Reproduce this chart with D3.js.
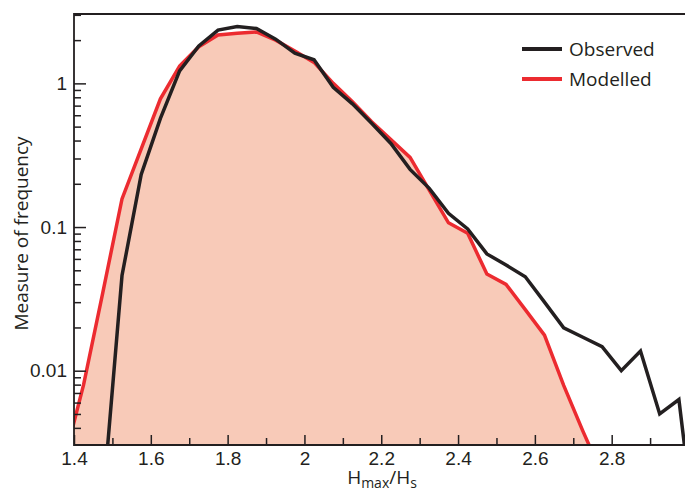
<!DOCTYPE html>
<html>
<head>
<meta charset="utf-8">
<script src="https://cdn.jsdelivr.net/npm/d3@7"></script>
<style>
  html, body { margin: 0; padding: 0; background: #fff; }
  svg { display: block; font-family: "Open Sans", "Noto Sans", sans-serif; }
</style>
</head>
<body>
<svg id="chart" width="685" height="492"></svg>
<script>
// H_max/H_s bin centres (0.05 wide)
const xObserved = [1.475, 1.525, 1.575, 1.625, 1.675, 1.725, 1.775, 1.825, 1.875, 1.925,
  1.975, 2.025, 2.075, 2.125, 2.175, 2.225, 2.275, 2.325, 2.375, 2.425, 2.475, 2.525,
  2.575, 2.625, 2.675, 2.725, 2.775, 2.825, 2.875, 2.925, 2.975, 3.025];
const observed = [0.0012, 0.046, 0.232, 0.571, 1.22, 1.82, 2.35, 2.49, 2.41, 2.03,
  1.62, 1.46, 0.94, 0.72, 0.527, 0.382, 0.252, 0.186, 0.1245, 0.097, 0.065, 0.0544,
  0.0451, 0.030, 0.0199, 0.0171, 0.0147, 0.0100, 0.0137, 0.0050, 0.0063, 0.0005];

const xModelled = [1.375, 1.425, 1.475, 1.525, 1.575, 1.625, 1.675, 1.725, 1.775, 1.825,
  1.875, 1.925, 1.975, 2.025, 2.075, 2.125, 2.175, 2.225, 2.275, 2.325, 2.375, 2.425,
  2.475, 2.525, 2.575, 2.625, 2.675, 2.725, 2.775];
const modelled = [0.0024, 0.0080, 0.035, 0.157, 0.35, 0.78, 1.32, 1.80, 2.17, 2.23,
  2.28, 2.0, 1.68, 1.40, 1.0, 0.745, 0.541, 0.406, 0.305, 0.181, 0.107, 0.0904,
  0.0471, 0.0399, 0.0266, 0.0177, 0.0079, 0.0038, 0.0019];

const xMajorTicks = [1.4, 1.6, 1.8, 2.0, 2.2, 2.4, 2.6, 2.8];
const xMinorTicks = [1.5, 1.7, 1.9, 2.1, 2.3, 2.5, 2.7, 2.9];
const yMajorTicks = [0.01, 0.1, 1];
const yTickLabels = ['0.01', '0.1', '1'];
const legendNames = ['Observed', 'Modelled'];

const INK = '#231f20', RED = '#ec2b30', FILL = '#f8cab8';
const svg = d3.select('#chart');
const L = 74, R = 685, T = 14, B = 445;

const x = d3.scaleLinear().domain([1.4, 3.0]).range([L, 688.5]);
const y = d3.scaleLog().domain([0.00304, 3.04]).range([B, T]);

svg.append('clipPath').attr('id', 'plot')
  .append('rect').attr('x', L).attr('y', T).attr('width', R - L).attr('height', B - T);
const g = svg.append('g').attr('clip-path', 'url(#plot)');

const mod = xModelled.map((v, i) => [v, modelled[i]]);
const obs = xObserved.map((v, i) => [v, observed[i]]);

g.append('path')
  .attr('d', d3.area().x(d => x(d[0])).y0(B + 50).y1(d => y(d[1]))(mod))
  .attr('fill', FILL);
const line = d3.line().x(d => x(d[0])).y(d => y(d[1]));
g.append('path').attr('d', line(mod)).attr('fill', 'none')
  .attr('stroke', RED).attr('stroke-width', 3.5).attr('stroke-linejoin', 'miter');
g.append('path').attr('d', line(obs)).attr('fill', 'none')
  .attr('stroke', INK).attr('stroke-width', 3.5).attr('stroke-linejoin', 'miter');

// minor y ticks: 2..9 in each decade
const yMinor = [];
[0.001, 0.01, 0.1, 1].forEach(dec => d3.range(2, 10).forEach(k => {
  const v = dec * k;
  if (v >= 0.00304 && v <= 3.04) yMinor.push(v);
}));

function style(sel) {
  sel.select('.domain').remove();
  sel.selectAll('line').attr('stroke', INK).attr('stroke-width', 1.5);
  sel.selectAll('text').attr('fill', INK).style('font-size', '19px');
}

svg.append('g').attr('transform', `translate(${L},0)`)
  .call(d3.axisLeft(y).tickValues(yMinor).tickSizeInner(-7).tickSizeOuter(0).tickFormat(''))
  .call(style);
svg.append('g').attr('transform', `translate(${L},0)`)
  .call(d3.axisLeft(y).tickValues(yMajorTicks).tickSizeInner(-12).tickSizeOuter(0).tickPadding(7)
    .tickFormat((d, i) => yTickLabels[i]))
  .call(style);

svg.append('g').attr('transform', `translate(0,${B})`)
  .call(d3.axisBottom(x).tickValues(xMinorTicks).tickSizeInner(-7).tickSizeOuter(0).tickFormat(''))
  .call(style);
svg.append('g').attr('transform', `translate(0,${B})`)
  .call(d3.axisBottom(x).tickValues(xMajorTicks).tickSizeInner(-10).tickSizeOuter(0).tickPadding(7)
    .tickFormat(d3.format('~g')))
  .call(style);

// frame: left, top, bottom
svg.append('path')
  .attr('d', `M${R},${T}H${L}V${B}H${R}`)
  .attr('fill', 'none').attr('stroke', INK).attr('stroke-width', 1.8);

// axis titles
svg.append('text')
  .attr('transform', `translate(28,${(T + B) / 2 + 4}) rotate(-90)`)
  .attr('text-anchor', 'middle').attr('fill', INK).style('font-size', '19px')
  .text('Measure of frequency');

const xt = svg.append('text').attr('x', 382).attr('y', 484)
  .attr('text-anchor', 'middle').attr('fill', INK).style('font-size', '19px');
xt.append('tspan').text('H');
xt.append('tspan').attr('dy', 4).style('font-size', '14px').text('max');
xt.append('tspan').attr('dy', -4).text('/H');
xt.append('tspan').attr('dy', 4).style('font-size', '14px').text('s');

// legend
const leg = svg.append('g');
[INK, RED].forEach((c, i) => {
  leg.append('line').attr('x1', 522).attr('x2', 562)
    .attr('y1', 49 + i * 30).attr('y2', 49 + i * 30)
    .attr('stroke', c).attr('stroke-width', 4);
  leg.append('text').attr('x', 569).attr('y', 56 + i * 30)
    .attr('fill', INK).style('font-size', '19px').text(legendNames[i]);
});
</script>
</body>
</html>
